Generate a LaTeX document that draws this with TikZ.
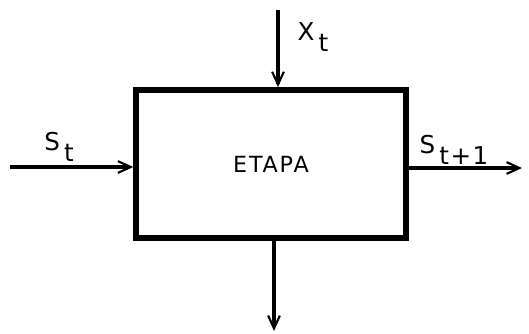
\documentclass[tikz,border=0pt]{standalone}
\usepackage{fontspec}
\setmainfont{DejaVu Sans}
\usepackage{tikz}
\usetikzlibrary{positioning, arrows.meta}

% subscript set low, as on the typewriter
\newcommand{\lowsub}[2]{#1\,\raisebox{-0.8ex}{#2}}

\begin{document}
\begin{tikzpicture}[
  x=0.03cm, y=-0.03cm,
  stage/.style={
    draw=black, line width=4.6pt, fill=white,
    minimum width=8.1cm, minimum height=4.45cm,
    font=\fontsize{19}{22}\selectfont\addfontfeature{LetterSpace=8},
    inner sep=0pt
  },
  flow/.style={-{Straight Barb[length=11pt, width=10pt, line width=1.8pt]}, line width=2.6pt},
  tag/.style={font=\fontsize{21}{24}\selectfont\addfontfeature{LetterSpace=6}, inner sep=1pt}
]
\useasboundingbox (0,0) rectangle (529,333);

% ---- Etapa ----
\node[stage] (box) at (271,164) {ETAPA};

% ---- Extremos libres ----
\coordinate (xin) at (278,10);
\coordinate (sin) at (10,167);
\coordinate (sout) at (522,168);
\coordinate (dout) at (274,331);

% Flechas
\draw[flow] (xin) -- (xin |- box.north);
\draw[flow] (sin) -- (sin -| box.west);
\draw[flow] (sout -| box.east) -- (sout);
\draw[flow] (dout |- box.south) -- (dout);

% ---- Etiquetas ----
\node[tag] (xlab) at (313,37) {\lowsub{X}{t}};
\node[tag] (slab) at (59,147) {\lowsub{S}{t}};
\node[tag] (snext) at (454,150) {\lowsub{S}{t+1}};

\end{tikzpicture}
\end{document}
